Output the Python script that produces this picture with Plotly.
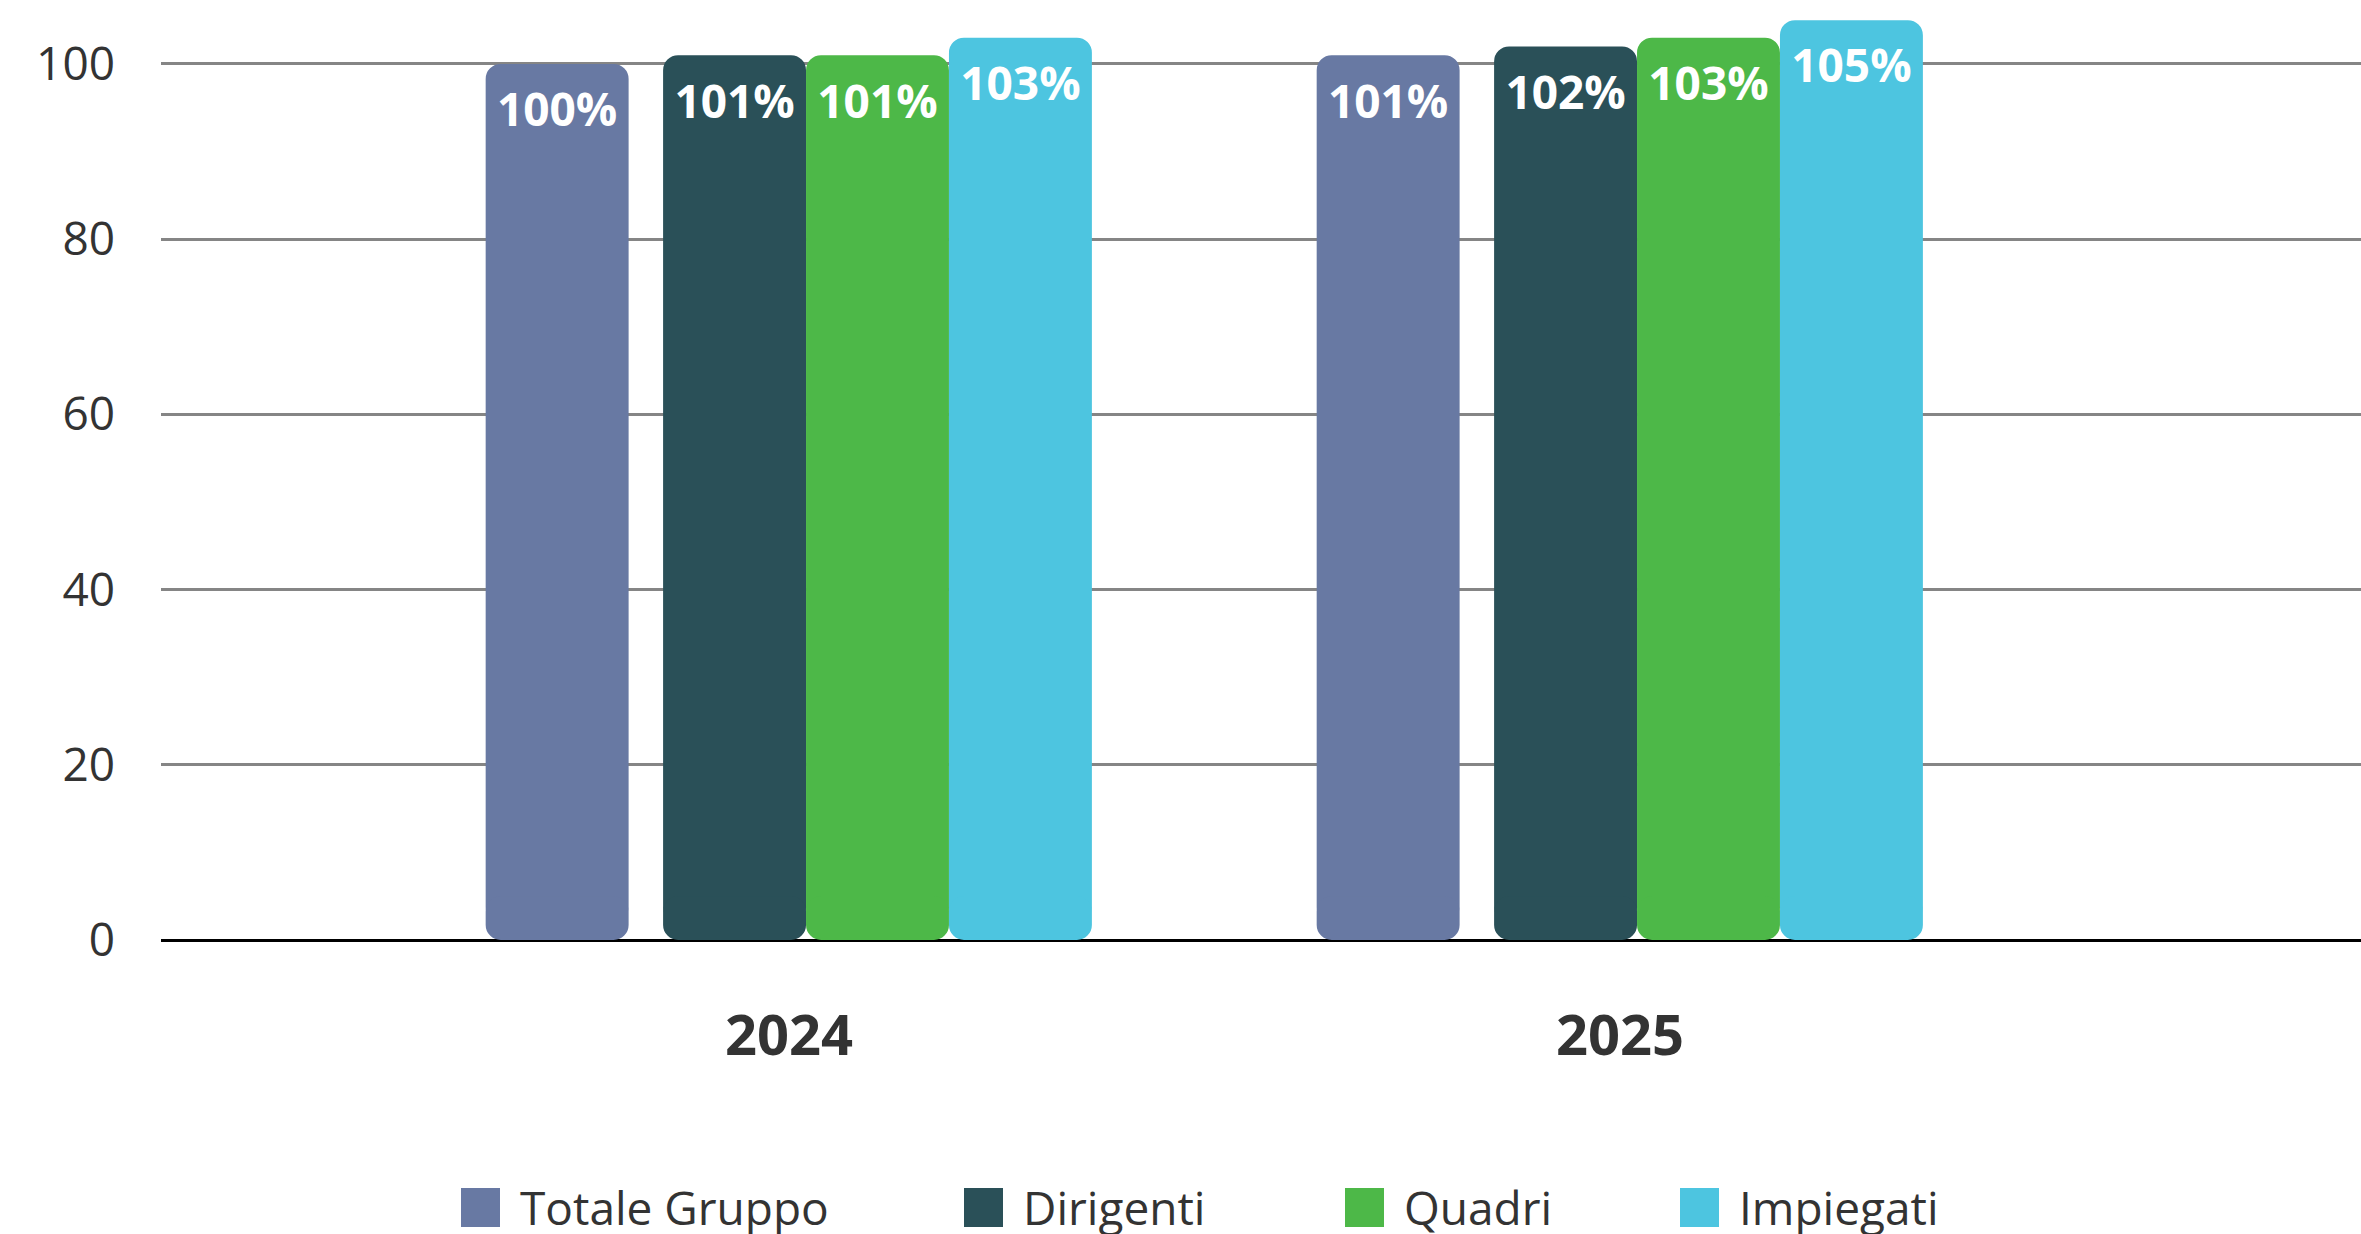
import plotly.graph_objects as go

# ---- data -------------------------------------------------------------
years = ["2024", "2025"]
series = ["Totale Gruppo", "Dirigenti", "Quadri", "Impiegati"]
totale_gruppo = [100, 101]
dirigenti = [101, 102]
quadri = [101, 103]
impiegati = [103, 105]
y_ticks = [0, 20, 40, 60, 80, 100]

series_values = [totale_gruppo, dirigenti, quadri, impiegati]
colors = ["#6879A3", "#2A5058", "#4DB848", "#4DC5E0"]

# ---- canvas geometry (pixels) -----------------------------------------
W, H = 2361, 1234
ML, MB = 161, 294
PLOT_W = W - ML
PLOT_H = H - MB

FONT = "Open Sans"
TEXT_COLOR = "#333333"

# bar placement within each year slot (axis units)
bar_width = 0.172
offsets = [-0.365, -0.1515, 0.0205, 0.1925]
x_pos = list(range(len(years)))
RADIUS = 15
FOOT_TOP = 5.0      # height of the short downward piece that rounds the bar foot
BODY_BASE = 2.0     # where the main (top-rounded) piece starts
LABEL_DROP = 5.8    # value label centre sits this far (axis units) below the bar top

fig = go.Figure()
for name, vals, color, off in zip(series, series_values, colors, offsets):
    # main body: rounded at the top
    fig.add_bar(
        x=x_pos,
        y=[v - BODY_BASE for v in vals],
        base=[BODY_BASE] * len(vals),
        name=name, width=bar_width, offset=off,
        marker=dict(color=color, cornerradius=RADIUS, line_width=0),
        showlegend=False, hoverinfo="skip",
    )
    # short foot drawn downward to zero so the bottom corners are rounded too
    fig.add_bar(
        x=x_pos,
        y=[-FOOT_TOP] * len(vals),
        base=[FOOT_TOP] * len(vals),
        name=name, width=bar_width, offset=off,
        marker=dict(color=color, cornerradius=RADIUS, line_width=0),
        showlegend=False, hoverinfo="skip",
    )
    # value labels inside the bar tops
    fig.add_scatter(
        x=[x + off + bar_width / 2 for x in x_pos],
        y=[v - LABEL_DROP for v in vals],
        mode="text",
        text=[f"{v}%" for v in vals],
        textposition="middle center",
        textfont=dict(family=FONT, size=46, color="white", weight=700),
        showlegend=False, hoverinfo="skip",
    )


def px_x(px):
    return (px - ML) / PLOT_W


def px_y(py):
    return (PLOT_H - py) / PLOT_H


# legend drawn as large square swatches with labels underneath the chart
legend_left = [461, 964, 1345, 1680]
SW = 39
SW_TOP = 1188
shapes = []
annotations = []
for name, color, left in zip(series, colors, legend_left):
    shapes.append(dict(
        type="rect", xref="paper", yref="paper",
        x0=px_x(left), x1=px_x(left + SW),
        y0=px_y(SW_TOP + SW), y1=px_y(SW_TOP),
        fillcolor=color, line_width=0, layer="above",
    ))
    annotations.append(dict(
        xref="paper", yref="paper",
        x=px_x(left + 57), y=px_y(SW_TOP + SW / 2 - 1),
        xanchor="left", yanchor="middle",
        text=name, showarrow=False,
        font=dict(family=FONT, size=46, color=TEXT_COLOR),
    ))

fig.update_layout(
    width=W,
    height=H,
    margin=dict(l=ML, r=0, t=0, b=MB, pad=0),
    paper_bgcolor="white",
    plot_bgcolor="white",
    barmode="overlay",
    shapes=shapes,
    annotations=annotations,
    showlegend=False,
    xaxis=dict(
        range=[-0.7557, 1.8917],
        tickvals=x_pos,
        ticktext=years,
        tickfont=dict(family=FONT, size=56, color=TEXT_COLOR, weight=700),
        showgrid=False,
        zeroline=False,
        showline=False,
        ticks="",
        ticklabelstandoff=58,
        fixedrange=True,
    ),
    yaxis=dict(
        range=[0, 107.3],
        tickvals=y_ticks,
        tickfont=dict(family=FONT, size=46, color=TEXT_COLOR),
        showgrid=True,
        gridcolor="#858585",
        gridwidth=3,
        zeroline=True,
        zerolinecolor="#000000",
        zerolinewidth=3,
        showline=False,
        ticks="",
        ticklabelstandoff=45,
        fixedrange=True,
    ),
)

fig.write_html("out.html")
